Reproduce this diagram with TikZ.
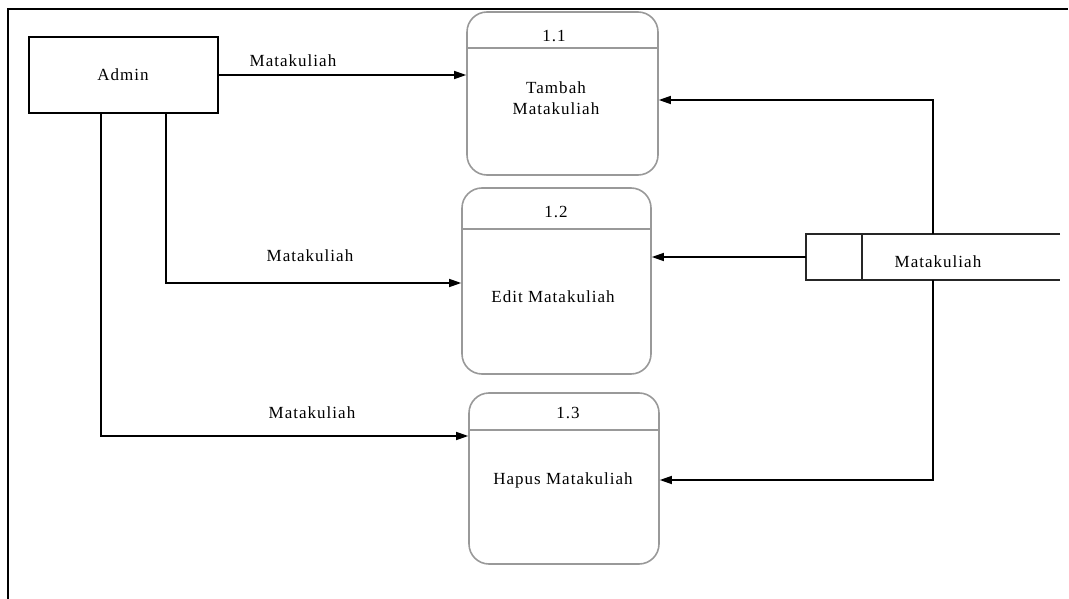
\documentclass[tikz,border=0pt]{standalone}
\usepackage{fontspec}
\setmainfont{Liberation Serif}
\newfontfamily\dfont[LetterSpace=6]{Liberation Serif}
\usetikzlibrary{arrows.meta,positioning,calc}
\begin{document}
\begin{tikzpicture}[x=1pt,y=-1pt,
  every node/.style={font=\dfont\fontsize{17}{21}\selectfont, inner sep=0pt},
  ent/.style={draw=black, line width=1.3pt, fill=white},
  proc/.style={draw=gray!80, line width=1.6pt, rounded corners=20pt, fill=white},
  divline/.style={draw=gray!80, line width=1.6pt},
  flow/.style={draw=black, line width=1.4pt, -{Triangle[length=12pt,width=8pt]}},
  plain/.style={draw=black, line width=1.4pt},
  lbl/.style={align=center}
]
\useasboundingbox (0,0) rectangle (1069,599);
% frame
\draw[line width=1.4pt] (8,599) -- (8,9) -- (1068,9);

% entity
\node[ent, minimum width=189pt, minimum height=76pt] (admin) at (123.5,75) {};
\node[lbl] (admint) at (123,75) {Admin};

% processes
\node[proc, minimum width=191pt, minimum height=163pt] (p1) at (562.5,93.5) {};
\node[proc, minimum width=189pt, minimum height=186pt] (p2) at (556.5,281) {};
\node[proc, minimum width=190pt, minimum height=171pt] (p3) at (564,478.5) {};
\coordinate (d1) at (0,48);
\coordinate (d2) at (0,229);
\coordinate (d3) at (0,430);
\draw[divline] (p1.west |- d1) -- (p1.east |- d1);
\draw[divline] (p2.west |- d2) -- (p2.east |- d2);
\draw[divline] (p3.west |- d3) -- (p3.east |- d3);
\node (n1) at (554,36) {1.1};
\node (n2) at (556,212) {1.2};
\node (n3) at (568,413) {1.3};
\node[lbl] (t1) at (556,98) {Tambah\\Matakuliah};
\node[lbl] (t2) at (553,297) {Edit Matakuliah};
\node[lbl] (t3) at (563,480) {Hapus Matakuliah};

% data store
\node[minimum width=254pt, minimum height=46pt] (store) at (933,257) {};
\draw[line width=1.5pt, draw=gray!30!black] (store.north east) -- (store.north west) -- (store.south west) -- (store.south east);
\coordinate (sd) at (862,0);
\draw[line width=1.5pt, draw=gray!30!black] (store.north -| sd) -- (store.south -| sd);
\node (st) at (938,262) {Matakuliah};

% flows
\draw[flow] (admin.east) -- (admin.east -| p1.west);
\node (l1) at (293,61) {Matakuliah};

\coordinate (a2) at (166,283);
\draw[flow] (admin.south -| a2) -- (a2) -- (a2 -| p2.west);
\node (l2) at (310,256) {Matakuliah};

\coordinate (a3) at (101,436);
\draw[flow] (admin.south -| a3) -- (a3) -- (a3 -| p3.west);
\node (l3) at (312,413) {Matakuliah};

\coordinate (j1) at (933,100);
\coordinate (j3) at (933,480);
\draw[flow] (store.north -| j1) -- (j1) -- (j1 -| p1.east);
\draw[flow] (store.south -| j3) -- (j3) -- (j3 -| p3.east);
\draw[flow] (store.west) -- (store.west -| p2.east);
\end{tikzpicture}
\end{document}
